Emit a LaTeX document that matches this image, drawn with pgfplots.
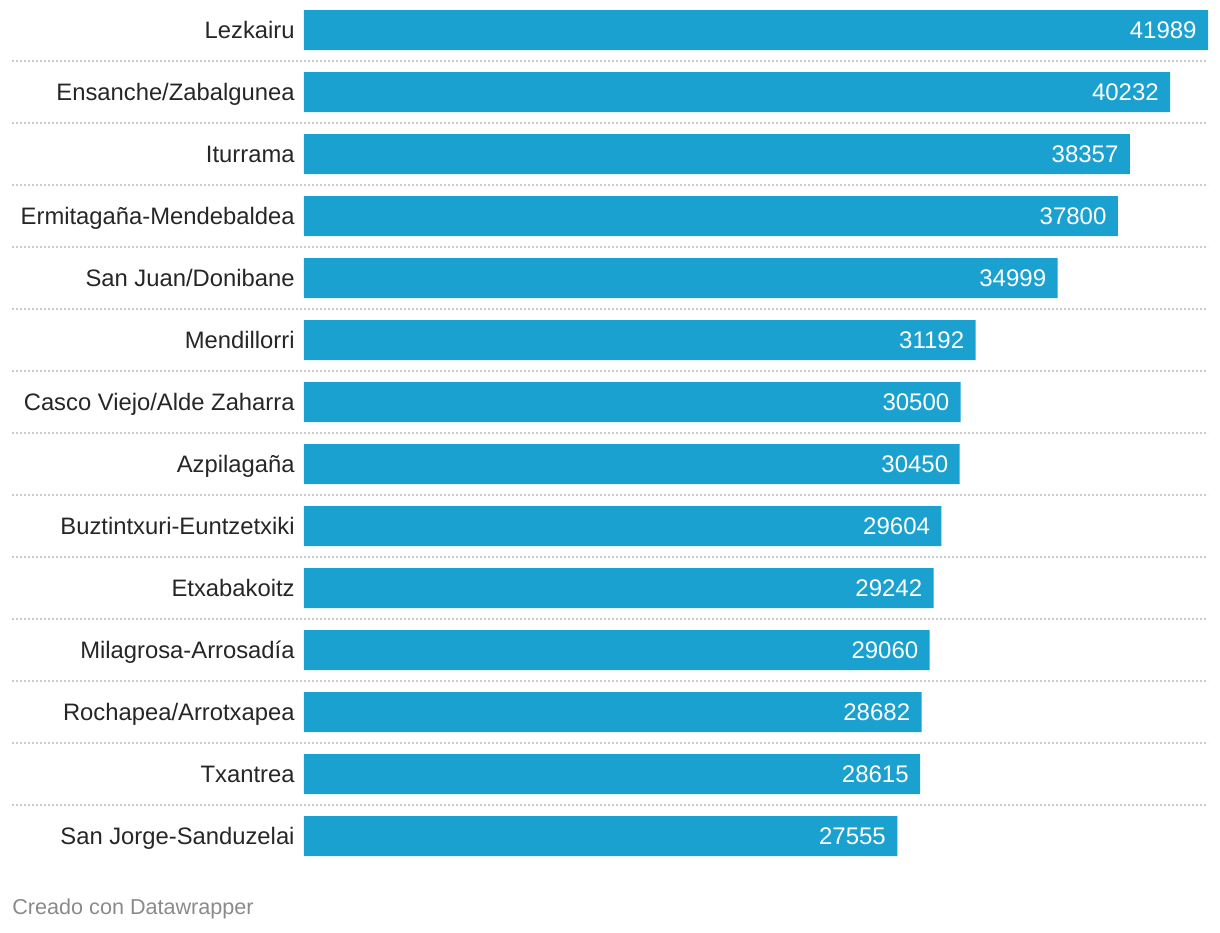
\documentclass[border=0pt]{standalone}
\usepackage{pgfplots}
\pgfplotsset{compat=1.18}
\usepackage{pgfplotstable}
\usepackage{fontspec}
\setmainfont{Liberation Sans}
\definecolor{barc}{HTML}{1AA1CF}
\definecolor{txt}{HTML}{262626}
\definecolor{sepc}{HTML}{CCCCCC}
\definecolor{foot}{HTML}{8A8A8A}

% one row per barrio, 0 = top
\pgfplotstableread{
idx value
0  41989
1  40232
2  38357
3  37800
4  34999
5  31192
6  30500
7  30450
8  29604
9  29242
10 29060
11 28682
12 28615
13 27555
}\datos

\begin{document}
\begin{tikzpicture}
\begin{axis}[
    name=ax,
    scale only axis,
    width=452pt, height=433.5pt,
    xmin=0, xmax=41989,
    ymin=-0.4839, ymax=13.5,
    y dir=reverse,
    xbar, bar width=20pt,
    axis line style={draw=none},
    xtick=\empty,
    ytick={0,...,13},
    yticklabels={Lezkairu, Ensanche/Zabalgunea, Iturrama, Ermitagaña-Mendebaldea,
      San Juan/Donibane, Mendillorri, Casco Viejo/Alde Zaharra, Azpilagaña,
      Buztintxuri-Euntzetxiki, Etxabakoitz, Milagrosa-Arrosadía,
      Rochapea/Arrotxapea, Txantrea, San Jorge-Sanduzelai},
    major tick length=0pt,
    yticklabel style={font=\fontsize{11.9}{13}\selectfont, text=txt, inner sep=0pt,
      text height=9.2pt, text depth=0.6pt, anchor=east, xshift=-4.5pt},
    nodes near coords,
    point meta=x,
    every node near coord/.append style={anchor=east, text=white, inner sep=0pt, xshift=-5.5pt,
      font=\fontsize{12}{13}\selectfont, text height=9.2pt, text depth=0.6pt,
      /pgf/number format/.cd, fixed, 1000 sep={}, assume math mode=true},
    clip=false,
]
\addplot[fill=barc, draw=none] table[x=value, y=idx] {\datos};
\pgfplotsinvokeforeach{0,...,12}{
  \draw[sepc, line width=1pt, dash pattern=on 1pt off 1pt]
    ([xshift=-146pt]axis cs:0,#1.5) -- (axis cs:41989,#1.5);
}
\end{axis}
\node[anchor=west, inner sep=0pt, text=foot, font=\fontsize{10.8}{12}\selectfont]
  at ([xshift=-146pt, yshift=-454.5pt]ax.north west) {Creado con Datawrapper};
\path[use as bounding box] ([xshift=-152pt]ax.north west) rectangle ([xshift=458pt, yshift=-466pt]ax.north west);
\end{tikzpicture}
\end{document}
